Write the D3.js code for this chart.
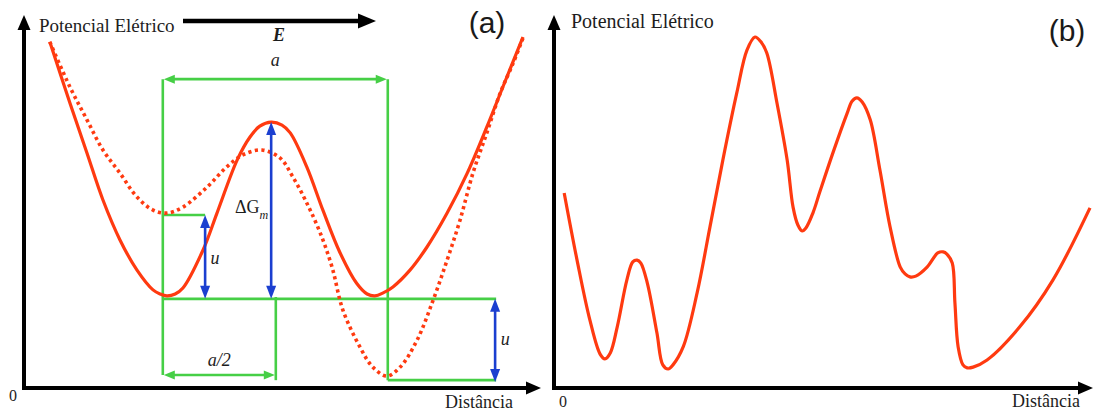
<!DOCTYPE html>
<html>
<head>
<meta charset="utf-8">
<script src="https://cdn.jsdelivr.net/npm/d3@7"></script>
<style>
  html, body { margin: 0; padding: 0; background: #fff; }
  svg { display: block; }
</style>
</head>
<body>
<svg id="chart" width="1094" height="412"></svg>
<script>
// (a) periodic potential without field: distance / potential samples
const distA = [0.50, 0.89, 1.22, 1.53, 1.86, 2.19, 2.50, 2.64, 2.77, 2.93, 3.08, 3.47, 3.74, 4.13, 4.38, 4.57, 4.79,
               5.00, 5.16, 5.48, 5.80, 6.12, 6.45, 6.65, 6.80, 6.96, 7.15, 7.48, 7.81, 8.20, 8.59, 8.97, 9.28, 9.67];
const potA  = [9.28, 7.64, 6.30, 5.04, 3.97, 3.16, 2.63, 2.52, 2.47, 2.52, 2.68, 3.70, 4.69, 6.11, 6.73, 7.02, 7.13,
               7.05, 6.84, 5.93, 4.74, 3.64, 2.80, 2.52, 2.47, 2.55, 2.71, 3.16, 3.78, 4.69, 5.76, 7.00, 8.07, 9.41];

// (a) same potential tilted by the applied field E (dotted)
const distTilt = [0.50, 0.89, 1.22, 1.53, 1.86, 2.19, 2.50, 2.77, 3.08, 3.55, 3.93, 4.24, 4.61, 4.96, 5.21, 5.48,
                  5.74, 5.97, 6.18, 6.51, 6.76, 7.03, 7.29, 7.62, 7.93, 8.20, 8.45, 8.70, 8.97, 9.23, 9.48, 9.67];
const potTilt  = [9.28, 8.07, 7.19, 6.38, 5.76, 5.12, 4.77, 4.69, 4.85, 5.39, 5.93, 6.25, 6.38, 6.17, 5.66, 4.96,
                  4.16, 3.24, 2.09, 1.10, 0.56, 0.32, 0.56, 1.29, 2.36, 3.43, 4.50, 5.76, 6.84, 7.91, 8.71, 9.38];

// (b) irregular potential profile
const distB = [0.19, 0.43, 0.67, 0.86, 0.95, 1.05, 1.18, 1.36, 1.47, 1.55, 1.62, 1.74, 1.92, 2.03, 2.13, 2.22,
               2.41, 2.67, 2.91, 3.15, 3.41, 3.60, 3.75, 3.86, 3.97, 4.16, 4.35, 4.46, 4.55, 4.63, 4.70, 4.83,
               4.96, 5.21, 5.47, 5.56, 5.65, 5.75, 5.90, 6.08, 6.27, 6.46, 6.55, 6.64, 6.75, 6.96, 7.16, 7.26,
               7.33, 7.43, 7.48, 7.54, 7.63, 7.71, 7.82, 8.08, 8.69, 9.31, 10.0];
const potB  = [5.23, 3.43, 1.82, 0.91, 0.78, 0.94, 1.64, 2.90, 3.38, 3.43, 3.35, 2.82, 1.48, 0.62, 0.51, 0.62,
               1.10, 2.55, 4.32, 6.11, 7.91, 9.06, 9.41, 9.28, 8.98, 7.64, 6.11, 4.85, 4.37, 4.21, 4.29, 4.69,
               5.26, 6.33, 7.37, 7.69, 7.78, 7.67, 7.19, 5.85, 4.32, 3.24, 3.06, 2.98, 3.00, 3.24, 3.62, 3.65,
               3.59, 3.35, 2.28, 1.10, 0.62, 0.54, 0.56, 0.75, 1.64, 2.90, 4.83];

// axis texts
const yTitle = "Potencial Elétrico";
const xTitle = "Distância";
const originTick = ["0"];
const panelTags = ["(a)", "(b)"];

// lattice construction in (a), in the same distance / potential units
const wellLeft = 2.69, barrierMid = 4.88, wellRight = 7.05, uArrowX = 3.51, rightEdge = 9.15;
const levelBase = 2.39, levelTilted = 4.64, levelLow = 0.21, levelBracket = 8.28, levelHalf = 0.35;

const COL = { red: "#ff3a10", green: "#46cf46", blue: "#1b3fd0", ink: "#000", text: "#1d1d1d" };
const SERIF = "'Liberation Serif', Tinos, 'Times New Roman', 'Nimbus Roman', 'DejaVu Serif', serif";
const SANS = "'Liberation Sans', Arimo, Arial, sans-serif";

const svg = d3.select("#chart");
svg.append("rect").attr("width", 1094).attr("height", 412).attr("fill", "#fff");

const xA = d3.scaleLinear().domain([0, 10]).range([24, 540]);
const yA = d3.scaleLinear().domain([0, 10]).range([388, 15]);
const xB = d3.scaleLinear().domain([0, 10]).range([554, 1090]);
const yB = d3.scaleLinear().domain([0, 10]).range([388, 15]);

function txt(g, x, y, size, s) {
  return g.append("text").attr("x", x).attr("y", y).attr("font-size", size)
    .attr("font-family", SERIF).attr("fill", COL.text).text(s);
}

function head(g, x, y, dir, len, half, color) {
  // triangle whose tip sits at (x, y), pointing in dir: "r","l","u","d"
  let pts;
  if (dir === "r") pts = [[x, y], [x - len, y - half], [x - len, y + half]];
  if (dir === "l") pts = [[x, y], [x + len, y - half], [x + len, y + half]];
  if (dir === "u") pts = [[x, y], [x - half, y + len], [x + half, y + len]];
  if (dir === "d") pts = [[x, y], [x - half, y - len], [x + half, y - len]];
  g.append("path").attr("d", "M" + pts.join("L") + "Z").attr("fill", color);
}

function axes(g, x, y, tipX, tag, tagPos, labels) {
  const x0 = x(0), y0 = y(0), yTop = y(10);
  g.append("line").attr("x1", x0).attr("x2", x0).attr("y1", y0 + 2).attr("y2", yTop + 12)
    .attr("stroke", COL.ink).attr("stroke-width", 4);
  head(g, x0, yTop, "u", 15, 6.5, COL.ink);
  g.append("line").attr("x1", x0 - 2).attr("x2", tipX - 12).attr("y1", y0).attr("y2", y0)
    .attr("stroke", COL.ink).attr("stroke-width", 4);
  head(g, tipX, y0, "r", 15, 6.5, COL.ink);

  txt(g, labels.ty[0], labels.ty[1], labels.ts, yTitle);
  txt(g, labels.tx[0], labels.tx[1], 18, xTitle).attr("text-anchor", "end");
  txt(g, labels.o[0], labels.o[1], 16, originTick[0]).attr("text-anchor", "middle");
  g.append("text").attr("x", tagPos[0]).attr("y", tagPos[1]).attr("font-family", SANS)
    .attr("fill", "#1a1a1a").attr("font-size", 30).attr("text-anchor", "middle").text(tag);
}

const curve = d3.curveCatmullRom.alpha(0.5);

// ---------- panel (a) ----------
const gA = svg.append("g");
axes(gA, xA, yA, 541, panelTags[0], [487, 33],
     { ty: [39, 32], ts: 19, tx: [513, 408], o: [13, 401] });

// field arrow E
gA.append("line").attr("x1", 183).attr("x2", 360).attr("y1", 21).attr("y2", 21)
  .attr("stroke", COL.ink).attr("stroke-width", 4.5);
head(gA, 376, 21, "r", 18, 7.5, COL.ink);
txt(gA, 279, 41, 18, "E").attr("font-weight", "bold").attr("font-style", "italic")
  .attr("text-anchor", "middle");

// green construction lines
const green = gA.append("g").attr("stroke", COL.green).attr("stroke-width", 2.6).attr("fill", "none");
function gl(x1, y1, x2, y2) {
  green.append("line").attr("x1", xA(x1)).attr("y1", yA(y1)).attr("x2", xA(x2)).attr("y2", yA(y2));
}
gl(wellLeft, levelBracket, wellLeft, levelHalf);
gl(wellRight, levelBracket, wellRight, levelLow);
gl(wellLeft, levelTilted, uArrowX, levelTilted);
gl(wellLeft, levelBase, rightEdge, levelBase);
gl(barrierMid, levelBase + 0.05, barrierMid, levelLow);
gl(wellRight, levelLow, rightEdge, levelLow);
// bracket a
gl(wellLeft + 0.2, levelBracket, wellRight - 0.2, levelBracket);
head(gA, xA(wellLeft) + 1, yA(levelBracket), "l", 11, 4.5, COL.green);
head(gA, xA(wellRight) - 1, yA(levelBracket), "r", 11, 4.5, COL.green);
// bracket a/2
gl(wellLeft + 0.2, levelHalf, barrierMid - 0.2, levelHalf);
head(gA, xA(wellLeft) + 1, yA(levelHalf), "l", 11, 4.5, COL.green);
head(gA, xA(barrierMid) - 1, yA(levelHalf), "r", 11, 4.5, COL.green);

// curves
const lineA = d3.line().x(d => xA(d[0])).y(d => yA(d[1])).curve(curve);
gA.append("path").datum(d3.zip(distTilt, potTilt)).attr("d", lineA)
  .attr("fill", "none").attr("stroke", COL.red).attr("stroke-width", 3.6)
  .attr("stroke-dasharray", "3.2,3.4");
gA.append("path").datum(d3.zip(distA, potA)).attr("d", lineA)
  .attr("fill", "none").attr("stroke", COL.red).attr("stroke-width", 3.2);

// blue double arrows
function blueArrow(xv, yLo, yHi) {
  const px = xA(xv), pTop = yA(yHi), pBot = yA(yLo);
  gA.append("line").attr("x1", px).attr("x2", px).attr("y1", pTop + 8).attr("y2", pBot - 8)
    .attr("stroke", COL.blue).attr("stroke-width", 2.6);
  head(gA, px, pTop, "u", 13, 5, COL.blue);
  head(gA, px, pBot, "d", 13, 5, COL.blue);
}
// barrier top of the unperturbed profile, between the two wells
const inCell = d3.range(distA.length).filter(i => distA[i] > wellLeft && distA[i] < wellRight);
const peakIdx = inCell[d3.maxIndex(inCell, i => potA[i])];
blueArrow(uArrowX, levelBase, levelTilted);
blueArrow(distA[peakIdx], levelBase, potA[peakIdx]);
blueArrow(rightEdge - 0.02, levelLow - 0.05, levelBase);

// construction labels
function ital(x, y, s) {
  return txt(gA, x, y, 18, s).attr("font-style", "italic").attr("text-anchor", "middle");
}
ital((xA(wellLeft) + xA(wellRight)) / 2, 66, "a");
ital((xA(wellLeft) + xA(barrierMid)) / 2, 366, "a/2");
ital(xA(uArrowX) + 10, 264, "u");
ital(xA(rightEdge) + 9, 345, "u");
const dg = txt(gA, 235, 213, 18, null);
dg.append("tspan").text("ΔG");
dg.append("tspan").attr("font-size", 12).attr("font-style", "italic").attr("dy", 6).text("m");

// ---------- panel (b) ----------
const gB = svg.append("g");
axes(gB, xB, yB, 1093, panelTags[1], [1067, 41],
     { ty: [571, 28], ts: 20, tx: [1080, 407], o: [563, 407] });
const lineB = d3.line().x(d => xB(d[0])).y(d => yB(d[1])).curve(curve);
gB.append("path").datum(d3.zip(distB, potB)).attr("d", lineB)
  .attr("fill", "none").attr("stroke", COL.red).attr("stroke-width", 3.2);
</script>
</body>
</html>
